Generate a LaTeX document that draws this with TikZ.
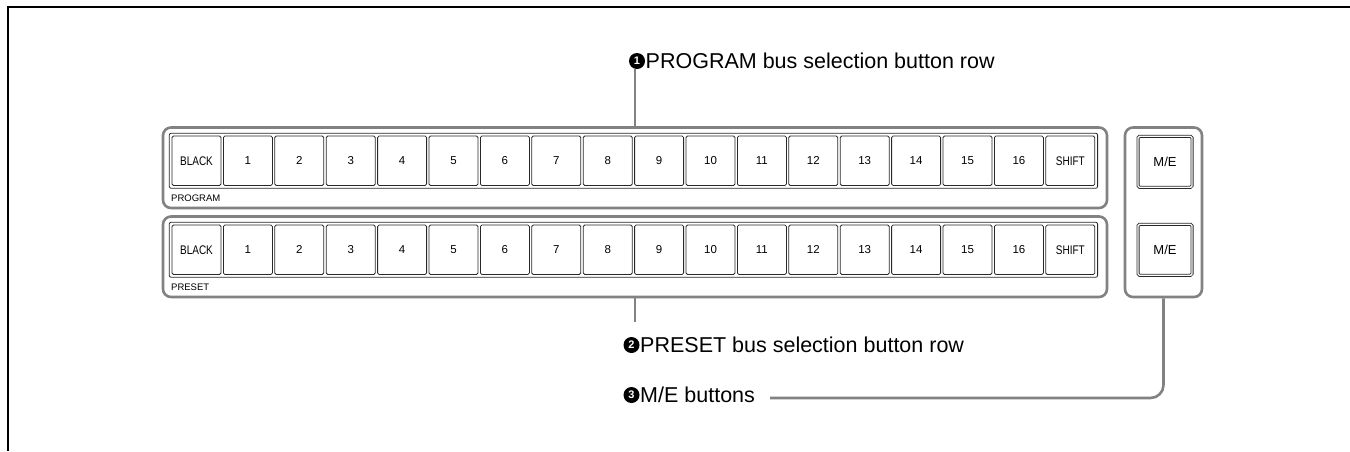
\documentclass[tikz,border=0pt]{standalone}
\usepackage{fontspec}
\setmainfont{Liberation Sans}
\usetikzlibrary{fit,calc}
\definecolor{panelgray}{RGB}{130,130,130}
\definecolor{keyline}{RGB}{40,40,40}

\newcommand{\narrowlabel}[1]{\scalebox{0.8}[1]{#1}}

\begin{document}
\begin{tikzpicture}[x=1pt,y=-1pt,
  panel/.style={draw=panelgray, line width=2.6pt, rounded corners=8pt, inner sep=0pt},
  key/.style={draw=keyline, fill=white, line width=0.8pt, rounded corners=1.5pt,
    minimum width=49pt, minimum height=49.5pt, inner sep=0pt,
    font=\fontsize{11.5}{13}\selectfont},
  wordkey/.style={key, font=\fontsize{12.5}{14}\selectfont},
  strip/.style={draw=keyline, line width=0.8pt, rounded corners=2pt, inner sep=2.4pt},
  buslabel/.style={anchor=west, inner sep=0pt, font=\fontsize{9.5}{11}\selectfont},
  mekey/.style={draw=keyline, line width=0.8pt, double=white, double distance=1.4pt,
    rounded corners=1.5pt, minimum width=54pt, minimum height=51pt, inner sep=0pt,
    font=\fontsize{13}{15}\selectfont},
  callnum/.style={circle, fill=black, text=white, minimum size=16pt, inner sep=0pt,
    font=\fontsize{11}{11}\selectfont\bfseries},
  callout/.style={anchor=base west, inner sep=0pt, font=\fontsize{21.5}{25}\selectfont},
  leader/.style={draw=panelgray, line width=2.6pt}
]
\useasboundingbox (0,0) rectangle (1350,451);
\fill[white] (0,0) rectangle (1350,451);

% page frame
\draw[line width=2pt] (1350,6.5) -- (7.7,6.5) -- (7.7,451);

% PROGRAM and PRESET bus rows
\foreach \row/\dy/\title in {prog/0/PROGRAM, pre/89/PRESET}{
  \node[panel, minimum width=944pt, minimum height=80.5pt] (\row-panel) at (635,167.75+\dy) {};
  \node[wordkey] (\row-k0) at (196.5,160.75+\dy) {\narrowlabel{BLACK}};
  \foreach \i in {1,...,16}{
    \node[key] (\row-k\i) at (196.5+\i*51.4,160.75+\dy) {\i};
  }
  \node[wordkey] (\row-k17) at (196.5+17*51.4,160.75+\dy) {\narrowlabel{SHIFT}};
  \node[strip, fit=(\row-k0)(\row-k17)] (\row-strip) {};
  \node[buslabel] (\row-title) at (171,198+\dy) {\title};
}

% M/E buttons
\node[panel, minimum width=77pt, minimum height=169.5pt] (mepanel) at (1163.5,212.25) {};
\node[mekey] (me1) at (1165,161.75) {M/E};
\node[mekey] (me2) at (1165,249.75) {M/E};

% callouts
\node[callnum] (n1) at (637,61) {1};
\node[callout] (t1) at (645.5,68.5) {PROGRAM bus selection button row};
\node[callnum] (n2) at (631.5,345) {2};
\node[callout] (t2) at (640,352) {PRESET bus selection button row};
\node[callnum] (n3) at (631.5,395) {3};
\node[callout] (t3) at (640,402) {M/E buttons};

% leader lines
\coordinate (end2) at (635,322);
\coordinate (end3) at (770,398);
\draw[leader] (prog-panel.north) -- (prog-panel.north |- n1.south);
\draw[leader] (pre-panel.south) -- (end2);
\draw[leader, rounded corners=13pt] (mepanel.south) |- (end3);
\end{tikzpicture}
\end{document}
